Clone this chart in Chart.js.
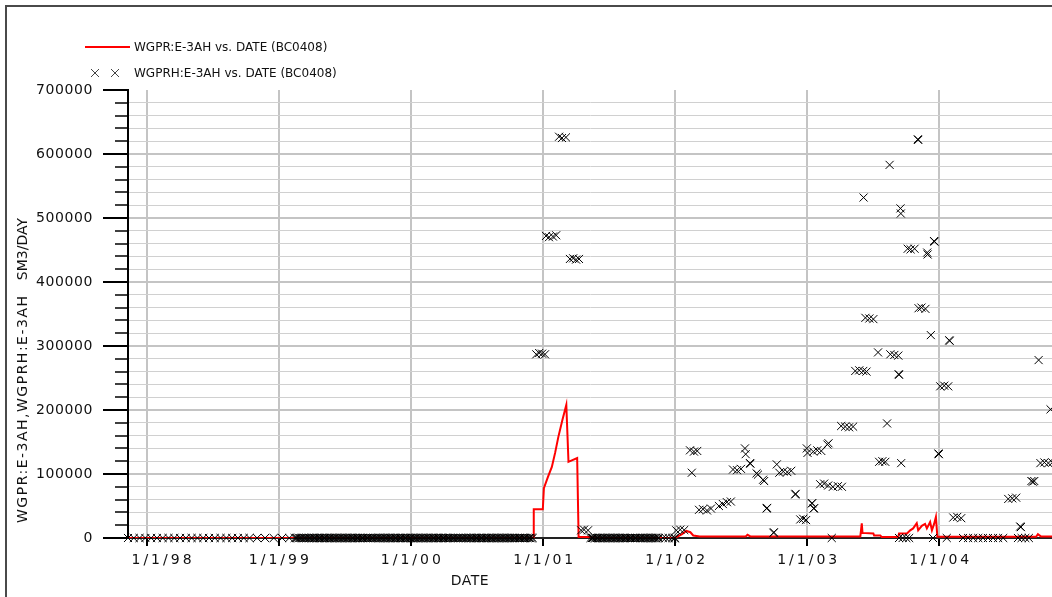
<!DOCTYPE html>
<html>
<head>
<meta charset="utf-8">
<script src="https://cdn.jsdelivr.net/npm/chart.js@4.4.1/dist/chart.umd.min.js"></script>
<style>
  html, body { margin: 0; padding: 0; background: #fff; overflow: hidden; }
  canvas { display: block; }
</style>
</head>
<body>
<canvas id="plot" width="1052" height="597"></canvas>
<script>
// ---- axis definitions ----
const dateRange = ['1997-11-10', '2004-11-08'];
const tickDates = ['1998-01-01', '1999-01-01', '2000-01-01', '2001-01-01', '2002-01-01', '2003-01-01', '2004-01-01'];
const tickLabels = ['1/1/98', '1/1/99', '1/1/00', '1/1/01', '1/1/02', '1/1/03', '1/1/04'];
const rateRange = [0, 700000];
const seriesNames = ['WGPR:E-3AH vs. DATE (BC0408)', 'WGPRH:E-3AH vs. DATE (BC0408)'];
const yTitleParts = ['WGPR:E-3AH,WGPRH:E-3AH', 'SM3/DAY'];
const xTitle = 'DATE';

// ---- simulated gas rate (red line) ----
const simDates = [
  '1997-11-10', '2000-12-04', '2000-12-06', '2000-12-31', '2001-01-03', '2001-01-14', '2001-01-25',
  '2001-02-03', '2001-02-12', '2001-02-23', '2001-03-06', '2001-03-12', '2001-04-05', '2001-04-09',
  '2001-05-15', '2001-05-20', '2001-12-31', '2002-01-20', '2002-02-01', '2002-02-12', '2002-02-20',
  '2002-03-10', '2002-07-15', '2002-07-20', '2002-07-28', '2003-05-28', '2003-06-01', '2003-06-03',
  '2003-07-03', '2003-07-05', '2003-07-22', '2003-07-26', '2003-09-10', '2003-09-12', '2003-10-04',
  '2003-10-13', '2003-10-21', '2003-10-31', '2003-11-04', '2003-11-14', '2003-11-23', '2003-11-28',
  '2003-12-07', '2003-12-12', '2003-12-18', '2003-12-23', '2003-12-27', '2004-09-25', '2004-09-30',
  '2004-10-08', '2004-11-10'
];
const simRates = [
  0, 0, 45000, 45000, 78000, 95000, 111000,
  133000, 158000, 184000, 208000, 119000, 125000, 1500,
  1500, 0, 0, 6000, 11000, 9000, 4000,
  2500, 2500, 5000, 2500, 2500, 23000, 8000,
  7000, 4000, 4000, 1500, 1500, 7000, 7000,
  12000, 15000, 23000, 12000, 19000, 22000, 15000,
  25000, 12000, 22000, 33000, 2000, 2000, 6000,
  2500, 2500
];

// ---- observed gas rate (x markers), non-zero readings ----
const histDates = [
  '2000-12-13', '2000-12-21', '2000-12-29', '2001-01-06', '2001-01-09', '2001-01-17', '2001-01-28',
  '2001-02-06', '2001-02-14', '2001-02-22', '2001-03-05', '2001-03-16', '2001-03-25', '2001-04-02',
  '2001-04-10', '2001-04-16', '2001-04-24', '2001-05-05',
  '2002-01-04', '2002-01-15', '2002-01-26', '2002-02-11', '2002-02-16', '2002-02-22', '2002-03-03',
  '2002-03-08', '2002-03-19', '2002-03-30', '2002-04-10', '2002-05-02', '2002-05-13', '2002-05-24',
  '2002-06-04', '2002-06-10', '2002-06-21', '2002-07-02', '2002-07-13', '2002-07-15', '2002-07-27',
  '2002-07-28', '2002-08-14', '2002-08-18', '2002-09-01', '2002-09-04', '2002-09-11', '2002-09-12',
  '2002-09-30', '2002-10-01', '2002-10-09', '2002-10-16', '2002-10-27', '2002-11-07', '2002-11-18',
  '2002-11-29', '2002-11-30', '2002-12-13', '2002-12-21', '2002-12-29', '2002-12-31',
  '2003-01-02', '2003-01-14', '2003-01-15', '2003-01-18', '2003-01-19', '2003-01-20', '2003-01-29',
  '2003-02-06', '2003-02-09', '2003-02-17', '2003-02-26', '2003-02-28', '2003-03-01', '2003-03-13',
  '2003-03-27', '2003-04-05', '2003-04-07', '2003-04-16', '2003-04-27', '2003-05-08', '2003-05-14',
  '2003-05-25', '2003-06-05', '2003-06-06', '2003-06-11', '2003-06-14', '2003-06-22', '2003-07-03',
  '2003-07-16', '2003-07-19', '2003-07-28', '2003-08-05', '2003-08-10', '2003-08-17', '2003-08-19',
  '2003-08-30', '2003-09-10', '2003-09-11', '2003-09-12', '2003-09-16', '2003-09-17', '2003-09-18',
  '2003-10-06', '2003-10-14', '2003-10-25', '2003-11-03', '2003-11-04', '2003-11-05', '2003-11-13',
  '2003-11-24', '2003-11-29', '2003-11-30', '2003-12-09', '2003-12-18', '2003-12-19', '2003-12-30',
  '2003-12-31', '2004-01-04', '2004-01-15', '2004-01-26', '2004-01-29', '2004-01-30', '2004-02-09',
  '2004-02-20', '2004-03-02', '2004-07-10', '2004-07-21', '2004-08-01', '2004-08-12', '2004-08-14',
  '2004-09-12', '2004-09-16', '2004-09-20', '2004-10-02', '2004-10-07', '2004-10-18', '2004-10-29',
  '2004-11-04', '2004-11-09'
];
const histRates = [
  287000, 289000, 288000, 287000, 472000, 470000, 471000,
  473000, 627000, 625000, 626000, 436000, 437000, 435000,
  436000, 12000, 13000, 12000,
  12000, 13000, 12500, 137000, 102000, 135000, 136000,
  44000, 45000, 43000, 46000, 50000, 53000, 56000,
  57000, 107000, 106000, 108000, 140000, 131000, 117000,
  116000, 101000, 99000, 91000, 89000, 46000, 47000,
  8000, 9000, 115000, 102000, 104000, 103000, 105000,
  68000, 69000, 29000, 30000, 28000, 140000,
  133000, 54000, 54500, 135000, 46000, 46500, 137000,
  84000, 136000, 85000, 146000, 82000, 148000, 80000,
  81000, 175000, 80000, 174000, 173000, 174000, 261000,
  262000, 261000, 532000, 344000, 260000, 343000, 342000,
  290000, 119000, 120000, 119000, 179000, 583000, 287000,
  286000, 285000, 256000, 255000, 515000, 507000, 117000,
  452000, 451000, 452000, 623000, 622000, 359000, 360000,
  358000, 446000, 443000, 317000, 464000, 463000, 132000,
  131000, 237000, 238000, 237000, 309000, 308000, 32000,
  33000, 31000, 61000, 62000, 63000, 18000, 17000,
  89000, 88000, 89000, 278000, 117000, 118000, 117000,
  201000, 118000
];

// ---- observed gas rate, readings of zero ----
const zeroDates1998 = [
  '1997-11-10', '1997-11-26', '1997-12-12', '1997-12-28', '1998-01-13', '1998-01-29', '1998-02-14',
  '1998-03-02', '1998-03-18', '1998-04-03', '1998-04-19', '1998-05-05', '1998-05-21', '1998-06-06',
  '1998-06-22', '1998-07-08', '1998-07-24', '1998-08-09', '1998-08-25', '1998-09-10', '1998-09-26',
  '1998-10-12', '1998-11-02', '1998-11-24', '1998-12-18', '1999-01-10', '1999-01-30'
];
const zeroDates1999 = [
  '1999-02-14', '1999-02-18', '1999-02-21', '1999-02-25', '1999-02-28', '1999-03-04', '1999-03-07',
  '1999-03-11', '1999-03-14', '1999-03-18', '1999-03-21', '1999-03-25', '1999-03-28', '1999-04-01',
  '1999-04-04', '1999-04-08', '1999-04-11', '1999-04-15', '1999-04-18', '1999-04-22', '1999-04-25',
  '1999-04-29', '1999-05-02', '1999-05-06', '1999-05-09', '1999-05-13', '1999-05-16', '1999-05-20',
  '1999-05-23', '1999-05-27', '1999-05-30', '1999-06-03', '1999-06-06', '1999-06-10', '1999-06-13',
  '1999-06-17', '1999-06-20', '1999-06-24', '1999-06-27', '1999-07-01', '1999-07-04', '1999-07-08',
  '1999-07-11', '1999-07-15', '1999-07-18', '1999-07-22', '1999-07-25', '1999-07-29', '1999-08-01',
  '1999-08-05', '1999-08-08', '1999-08-12', '1999-08-15', '1999-08-19', '1999-08-22', '1999-08-26',
  '1999-08-29', '1999-09-02', '1999-09-05', '1999-09-09', '1999-09-12', '1999-09-16', '1999-09-19',
  '1999-09-23', '1999-09-26', '1999-09-30', '1999-10-03', '1999-10-07', '1999-10-10', '1999-10-14',
  '1999-10-17', '1999-10-21', '1999-10-24', '1999-10-28', '1999-10-31', '1999-11-04', '1999-11-07',
  '1999-11-11', '1999-11-14', '1999-11-18', '1999-11-21', '1999-11-25', '1999-11-28', '1999-12-02',
  '1999-12-05', '1999-12-09', '1999-12-12', '1999-12-16', '1999-12-19', '1999-12-23', '1999-12-26',
  '1999-12-30'
];
const zeroDates2000 = [
  '2000-01-02', '2000-01-06', '2000-01-09', '2000-01-13', '2000-01-16', '2000-01-20', '2000-01-23',
  '2000-01-27', '2000-01-30', '2000-02-03', '2000-02-06', '2000-02-10', '2000-02-13', '2000-02-17',
  '2000-02-20', '2000-02-24', '2000-02-27', '2000-03-02', '2000-03-05', '2000-03-09', '2000-03-12',
  '2000-03-16', '2000-03-19', '2000-03-23', '2000-03-26', '2000-03-30', '2000-04-02', '2000-04-06',
  '2000-04-09', '2000-04-13', '2000-04-16', '2000-04-20', '2000-04-23', '2000-04-27', '2000-04-30',
  '2000-05-04', '2000-05-07', '2000-05-11', '2000-05-14', '2000-05-18', '2000-05-21', '2000-05-25',
  '2000-05-28', '2000-06-01', '2000-06-04', '2000-06-08', '2000-06-11', '2000-06-15', '2000-06-18',
  '2000-06-22', '2000-06-25', '2000-06-29', '2000-07-02', '2000-07-06', '2000-07-09', '2000-07-13',
  '2000-07-16', '2000-07-20', '2000-07-23', '2000-07-27', '2000-07-30', '2000-08-03', '2000-08-06',
  '2000-08-10', '2000-08-13', '2000-08-17', '2000-08-20', '2000-08-24', '2000-08-27', '2000-08-31',
  '2000-09-03', '2000-09-07', '2000-09-10', '2000-09-14', '2000-09-17', '2000-09-21', '2000-09-24',
  '2000-09-28', '2000-10-01', '2000-10-05', '2000-10-08', '2000-10-12', '2000-10-15', '2000-10-19',
  '2000-10-22', '2000-10-26', '2000-10-29', '2000-11-02', '2000-11-05', '2000-11-09', '2000-11-12',
  '2000-11-16', '2000-11-19', '2000-11-23', '2000-11-26', '2000-11-30', '2000-12-03'
];
const zeroDates2001 = [
  '2001-05-12', '2001-05-16', '2001-05-19', '2001-05-23', '2001-05-26', '2001-05-30', '2001-06-02',
  '2001-06-06', '2001-06-09', '2001-06-13', '2001-06-16', '2001-06-20', '2001-06-23', '2001-06-27',
  '2001-06-30', '2001-07-04', '2001-07-07', '2001-07-11', '2001-07-14', '2001-07-18', '2001-07-21',
  '2001-07-25', '2001-07-28', '2001-08-01', '2001-08-04', '2001-08-08', '2001-08-11', '2001-08-15',
  '2001-08-18', '2001-08-22', '2001-08-25', '2001-08-29', '2001-09-01', '2001-09-05', '2001-09-08',
  '2001-09-12', '2001-09-15', '2001-09-19', '2001-09-22', '2001-09-26', '2001-09-29', '2001-10-03',
  '2001-10-06', '2001-10-10', '2001-10-13', '2001-10-17', '2001-10-20', '2001-10-24', '2001-10-27',
  '2001-10-31', '2001-11-03', '2001-11-07', '2001-11-10', '2001-11-14', '2001-11-17', '2001-11-28',
  '2001-12-06', '2001-12-14', '2001-12-24', '2001-12-30', '2002-01-01'
];
const zeroDates2003 = [
  '2003-03-10', '2003-09-12', '2003-09-22', '2003-10-02', '2003-10-10', '2003-12-15', '2004-01-22',
  '2004-03-07', '2004-03-21', '2004-04-04', '2004-04-18', '2004-05-01', '2004-05-15', '2004-05-29',
  '2004-06-12', '2004-06-26', '2004-08-06', '2004-08-16', '2004-08-26', '2004-09-05'
];

const ts = s => Date.parse(s);
const FONT = '"DejaVu Sans", sans-serif';

const zeroDates = [].concat(zeroDates1998, zeroDates1999, zeroDates2000, zeroDates2001, zeroDates2003);
const simPoints = simDates.map((d, i) => ({ x: ts(d), y: simRates[i] }));
const histPoints = zeroDates.map(d => ({ x: ts(d), y: 0 }))
  .concat(histDates.map((d, i) => ({ x: ts(d), y: histRates[i] })));

function drawCross(ctx, x, y, h) {
  ctx.beginPath();
  ctx.moveTo(x - h, y - h); ctx.lineTo(x + h, y + h);
  ctx.moveTo(x - h, y + h); ctx.lineTo(x + h, y - h);
  ctx.stroke();
}

// Frame, axis decorations, titles and legend
const decorations = {
  id: 'decorations',
  beforeDraw(chart) {
    const ctx = chart.ctx;
    ctx.save();
    ctx.fillStyle = '#fff';
    ctx.fillRect(0, 0, chart.width, chart.height);
    ctx.restore();
    ctx.letterSpacing = '0.6px';
  },
  beforeDatasetsDraw(chart) {
    chart.ctx.letterSpacing = '0px';
  },
  afterDraw(chart) {
    const ctx = chart.ctx;
    const xs = chart.scales.x, ys = chart.scales.y;
    ctx.save();

    // outer frame
    ctx.strokeStyle = '#4a4a4a';
    ctx.lineWidth = 2;
    ctx.strokeRect(6, 6, 2000, 2000);

    // y tick marks: long at each 100000, short at each 20000
    ctx.strokeStyle = '#000';
    for (let v = rateRange[0]; v <= rateRange[1]; v += 20000) {
      const y = Math.round(ys.getPixelForValue(v));
      const major = v % 100000 === 0;
      ctx.lineWidth = major ? 2 : 1.5;
      ctx.beginPath();
      ctx.moveTo(major ? xs.left - 25 : xs.left - 13, y);
      ctx.lineTo(xs.left + 1, y);
      ctx.stroke();
    }

    // x tick labels
    ctx.fillStyle = '#111';
    ctx.font = '14px ' + FONT;
    ctx.letterSpacing = '3px';
    ctx.textAlign = 'center';
    ctx.textBaseline = 'middle';
    tickDates.forEach((d, i) => {
      const w = ctx.measureText(tickLabels[i]).width;
      let px = xs.getPixelForValue(ts(d));
      if (px - w / 2 < xs.left + 2) px = xs.left + 2 + w / 2;
      ctx.fillText(tickLabels[i], px + 1.5, 560);
    });

    // x title
    ctx.letterSpacing = '0.5px';
    ctx.fillText(xTitle, 470, 581);

    // y title (two parts, rotated)
    ctx.save();
    ctx.translate(23, 523);
    ctx.rotate(-Math.PI / 2);
    ctx.textAlign = 'left';
    ctx.letterSpacing = '1.5px';
    ctx.fillText(yTitleParts[0], 0, 0);
    ctx.restore();
    ctx.save();
    ctx.translate(23, 218);
    ctx.rotate(-Math.PI / 2);
    ctx.textAlign = 'right';
    ctx.letterSpacing = '0px';
    ctx.fillText(yTitleParts[1], 0, 0);
    ctx.restore();

    // legend
    const ds = chart.data.datasets;
    ctx.letterSpacing = '0px';
    ctx.font = '12px ' + FONT;
    ctx.textAlign = 'left';
    ctx.strokeStyle = ds[0].borderColor;
    ctx.lineWidth = 2;
    ctx.beginPath();
    ctx.moveTo(85, 47); ctx.lineTo(130, 47);
    ctx.stroke();
    ctx.fillText(ds[0].label, 134, 48);
    ctx.strokeStyle = '#444';
    ctx.lineWidth = 1;
    drawCross(ctx, 95, 73, 4);
    drawCross(ctx, 115, 73, 4);
    ctx.fillText(ds[1].label, 134, 74);

    ctx.restore();
  }
};

new Chart(document.getElementById('plot'), {
  type: 'line',
  data: {
    datasets: [
      {
        label: seriesNames[0],
        data: simPoints,
        borderColor: '#ff0000',
        borderWidth: 2,
        pointRadius: 0,
        tension: 0,
        fill: false,
        order: 2
      },
      {
        type: 'scatter',
        label: seriesNames[1],
        data: histPoints,
        pointStyle: 'crossRot',
        pointRadius: 5.7,
        pointBorderColor: '#000',
        pointBackgroundColor: '#000',
        pointBorderWidth: 1,
        borderColor: '#000',
        clip: false,
        order: 1
      }
    ]
  },
  options: {
    responsive: false,
    animation: false,
    events: [],
    layout: { autoPadding: false, padding: { top: 90, left: 0, right: 0, bottom: 0 } },
    plugins: { legend: { display: false }, tooltip: { enabled: false } },
    scales: {
      x: {
        type: 'linear',
        min: ts(dateRange[0]),
        max: ts(dateRange[1]),
        afterBuildTicks: s => { s.ticks = tickDates.map(d => ({ value: ts(d) })); },
        afterFit: s => { s.height = 59; },
        ticks: { display: false, autoSkip: false },
        grid: {
          color: '#c4c4c4',
          lineWidth: 2,
          drawTicks: true,
          tickLength: 8,
          tickColor: '#000',
          tickWidth: 2
        },
        border: { display: true, color: '#222', width: 2 }
      },
      y: {
        type: 'linear',
        min: rateRange[0],
        max: rateRange[1],
        afterFit: s => { s.width = 128; },
        ticks: {
          stepSize: 20000,
          autoSkip: false,
          padding: 35,
          color: '#111',
          font: { family: FONT, size: 14 },
          callback: v => (v % 100000 === 0 ? String(v) : '')
        },
        grid: {
          drawTicks: false,
          color: c => (c.tick.value === rateRange[1] ? 'rgba(0,0,0,0)'
            : (c.tick.value % 100000 === 0 ? '#c4c4c4' : '#d0d0d0')),
          lineWidth: c => (c.tick.value % 100000 === 0 ? 2 : 1)
        },
        border: { display: true, color: '#000', width: 2 }
      }
    }
  },
  plugins: [decorations]
});
</script>
</body>
</html>
